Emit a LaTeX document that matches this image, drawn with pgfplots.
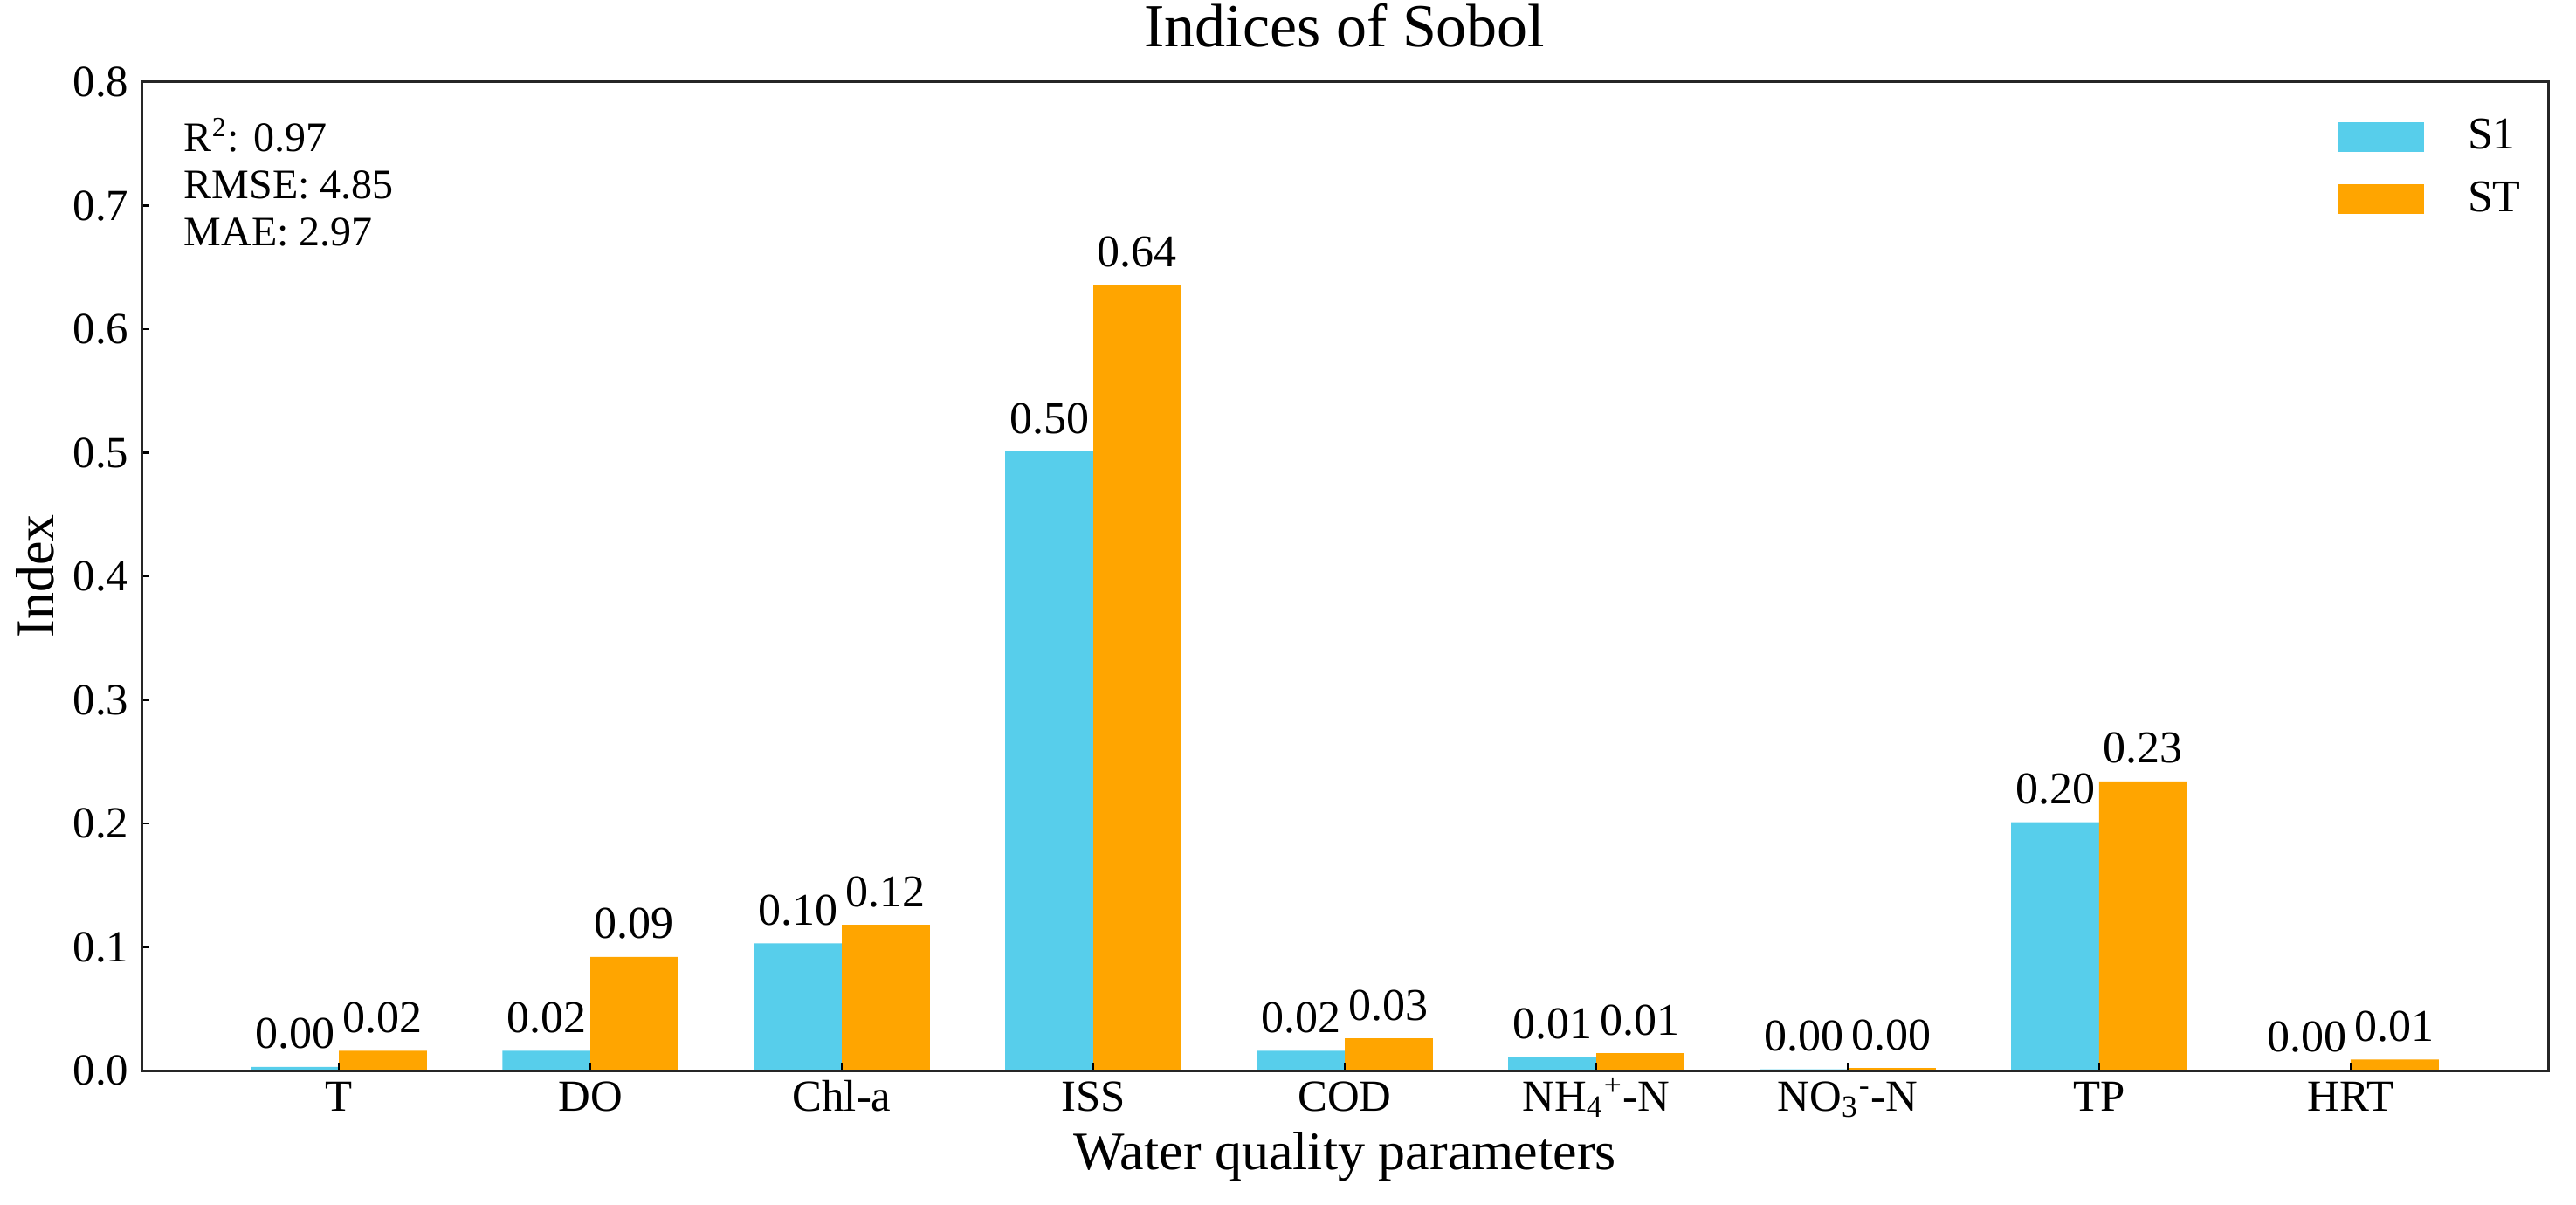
\documentclass[border=0pt]{standalone}
\usepackage{fontspec}
\setmainfont{Liberation Serif}
\usepackage{pgfplots}
\pgfplotsset{compat=1.18}
\definecolor{sone}{RGB}{87,206,235}
\definecolor{stt}{RGB}{255,165,0}
\begin{document}
\begin{tikzpicture}
\begin{axis}[
  scale only axis,
  width=689pt, height=283pt,
  xmin=-0.785, xmax=8.785,
  ymin=0, ymax=0.8,
  ybar, bar width=0.35,
  axis on top,
  axis line style={line width=0.75pt, black!85},
  xtick={0,1,2,3,4,5,6,7,8},
  xticklabels={T,DO,Chl-a,ISS,COD,NH\textsubscript{4}\textsuperscript{+}-N,NO\textsubscript{3}\textsuperscript{-}-N,TP,HRT},
  ytick={0,0.1,0.2,0.3,0.4,0.5,0.6,0.7,0.8},
  xtick pos=bottom, ytick pos=left,
  tick align=inside,
  major tick length=2.25pt,
  tick style={line width=0.6pt, black},
  yticklabel style={/pgf/number format/fixed, /pgf/number format/fixed zerofill, /pgf/number format/precision=1, /pgf/number format/assume math mode=true,
    font=\fontsize{12.7}{15}\selectfont, inner sep=0pt, anchor=east, xshift=-3.5pt},
  xticklabel style={font=\fontsize{12.7}{15}\selectfont, inner sep=0pt, anchor=base, yshift=-11.5pt},
  title={Indices of Sobol},
  title style={font=\fontsize{17.5}{21}\selectfont, at={(axis description cs:0.5,1)}, anchor=base, yshift=4pt, inner sep=0pt},
  xlabel={Water quality parameters},
  xlabel style={font=\fontsize{15.5}{18}\selectfont, at={(axis description cs:0.5,0)}, anchor=base, yshift=-28.25pt, inner sep=0pt},
  ylabel={Index},
  ylabel style={font=\fontsize{15.5}{18}\selectfont, at={(axis description cs:0,0.5)}, anchor=base, yshift=25pt, inner sep=0pt},
  nodes near coords={\pgfmathprintnumber[fixed, fixed zerofill, precision=2, assume math mode=true]{\pgfplotspointmeta}},
  nodes near coords style={font=\fontsize{13}{15}\selectfont, anchor=base, yshift=5.25pt, inner sep=0pt, black},
  legend style={at={(axis description cs:0.9129,1)}, anchor=north west, yshift=-8.6pt,
    draw=none, fill=none, inner sep=0pt, outer sep=0pt, row sep=3.7pt,
    font=\fontsize{13}{15}\selectfont,
    cells={anchor=west, inner sep=0pt},
    /tikz/every odd column/.append style={column sep=10.5pt}},
  legend image code/.code={\path[#1] (0pt,-4.25pt) rectangle (24.5pt,4.25pt);},
]
\addplot[fill=sone, draw=none, bar shift=-0.175] coordinates {(0,0.003) (1,0.016) (2,0.103) (3,0.501) (4,0.016) (5,0.011) (6,0.001) (7,0.201) (8,0.0005)};
\addplot[fill=stt, draw=none, bar shift=0.175] coordinates {(0,0.016) (1,0.092) (2,0.118) (3,0.636) (4,0.026) (5,0.014) (6,0.002) (7,0.234) (8,0.009)};
\legend{S1,ST}
\node[anchor=base west, inner sep=0pt, font=\fontsize{12}{14}\selectfont] at ([shift={(12pt,-20pt)}]rel axis cs:0,1) {R\textsuperscript{2}: 0.97};
\node[anchor=base west, inner sep=0pt, font=\fontsize{12}{14}\selectfont] at ([shift={(12pt,-33.5pt)}]rel axis cs:0,1) {RMSE: 4.85};
\node[anchor=base west, inner sep=0pt, font=\fontsize{12}{14}\selectfont] at ([shift={(12pt,-47pt)}]rel axis cs:0,1) {MAE: 2.97};
\coordinate (bl) at (rel axis cs:0,0);
\coordinate (tr) at (rel axis cs:1,1);
\end{axis}
\pgfresetboundingbox
\path ([shift={(-40.5pt,-38.25pt)}]bl) rectangle ([shift={(8pt,23.5pt)}]tr);
\end{tikzpicture}
\end{document}
